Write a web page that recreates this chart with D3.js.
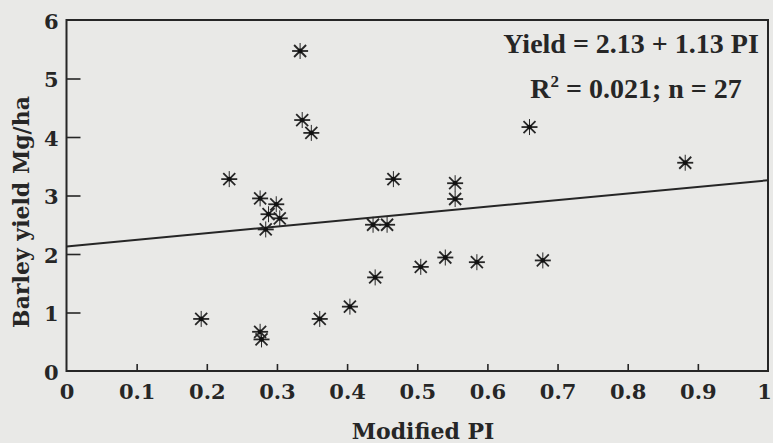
<!DOCTYPE html>
<html>
<head>
<meta charset="utf-8">
<script src="https://cdn.jsdelivr.net/npm/d3@7"></script>
<style>
  html, body { margin: 0; padding: 0; background: #e9e9e7; }
  svg { display: block; }
</style>
</head>
<body>
<div id="chart"></div>
<script>
// values
const modifiedPI = [
  0.333, 0.336, 0.349,
  0.232, 0.276, 0.299, 0.288, 0.304, 0.284,
  0.466, 0.437, 0.457, 0.440, 0.404, 0.361, 0.192, 0.276, 0.278,
  0.660, 0.882, 0.554, 0.554, 0.505, 0.540, 0.585, 0.679
]
const barleyYield = [
  5.47, 4.29, 4.07,
  3.28, 2.95, 2.85, 2.68, 2.61, 2.42,
  3.28, 2.50, 2.50, 1.60, 1.10, 0.89, 0.89, 0.67, 0.54,
  4.17, 3.56, 3.21, 2.94, 1.78, 1.94, 1.86, 1.89
]
const xTicks = [0, 0.1, 0.2, 0.3, 0.4, 0.5, 0.6, 0.7, 0.8, 0.9, 1]
const yTicks = [0, 1, 2, 3, 4, 5, 6]
const intercept = 2.13
const slope = 1.13
const equationLines = ['Yield = 2.13 + 1.13 PI', 'R', ' = 0.021; n = 27']

const width = 773
const height = 443
const margin = { top: 20, right: 5, bottom: 72, left: 66.5 }
const ink = '#262626'
const labelFont = '"DejaVu Serif", serif'
const eqFont = '"Liberation Serif", "Times New Roman", serif'

const svg = d3.select('#chart')
  .append('svg')
  .attr('width', width)
  .attr('height', height)

svg.append('rect')
  .attr('width', width)
  .attr('height', height)
  .attr('fill', '#e9e9e7')

const x = d3.scaleLinear()
  .domain([0, 1])
  .range([margin.left, width - margin.right])

const y = d3.scaleLinear()
  .domain([0, 6])
  .range([height - margin.bottom, margin.top])

// frame
svg.append('rect')
  .attr('x', x(0))
  .attr('y', y(6))
  .attr('width', x(1) - x(0))
  .attr('height', y(0) - y(6))
  .attr('fill', 'none')
  .attr('stroke', ink)
  .attr('stroke-width', 2)

// x axis, ticks pointing inward
const xAxis = d3.axisBottom(x)
  .tickValues(xTicks)
  .tickSizeInner(-7)
  .tickSizeOuter(0)
  .tickPadding(13)
  .tickFormat(d => d === 0 || d === 1 ? d3.format('d')(d) : d3.format('.1f')(d))

const gx = svg.append('g')
  .attr('transform', `translate(0,${y(0)})`)
  .call(xAxis)
gx.select('.domain').remove()
gx.selectAll('.tick line')
  .attr('stroke', ink)
  .attr('stroke-width', 1.6)
  .filter(d => d === 0 || d === 1).remove()
gx.selectAll('.tick text')
  .attr('fill', ink)
  .attr('font-family', labelFont)
  .attr('font-weight', 'bold')
  .attr('font-size', 21)
  .filter(d => d === 1)
  .attr('dx', -4)

// y axis, ticks pointing inward
const yAxis = d3.axisLeft(y)
  .tickValues(yTicks)
  .tickSizeInner(-14)
  .tickSizeOuter(0)
  .tickPadding(8)
  .tickFormat(d3.format('d'))

const gy = svg.append('g')
  .attr('transform', `translate(${x(0)},0)`)
  .call(yAxis)
gy.select('.domain').remove()
gy.selectAll('.tick line')
  .attr('stroke', ink)
  .attr('stroke-width', 1.6)
  .filter(d => d === 0 || d === 6).remove()
gy.selectAll('.tick text')
  .attr('fill', ink)
  .attr('font-family', labelFont)
  .attr('font-weight', 'bold')
  .attr('font-size', 21)
  .attr('dy', '0.4em')

// axis titles
svg.append('text')
  .attr('x', 423)
  .attr('y', 439)
  .attr('text-anchor', 'middle')
  .attr('fill', ink)
  .attr('font-family', labelFont)
  .attr('font-weight', 'bold')
  .attr('font-size', 22)
  .text('Modified PI')

svg.append('text')
  .attr('transform', 'translate(29,212) rotate(-90)')
  .attr('text-anchor', 'middle')
  .attr('fill', ink)
  .attr('font-family', labelFont)
  .attr('font-weight', 'bold')
  .attr('font-size', 22)
  .text('Barley yield Mg/ha')

// regression line
const fit = d3.line()
  .x(d => x(d))
  .y(d => y(intercept + slope * d))

svg.append('path')
  .datum([0, 1])
  .attr('d', fit)
  .attr('fill', 'none')
  .attr('stroke', ink)
  .attr('stroke-width', 2)

// asterisk markers
const r = 8
const arms = [
  [-r, 0, r, 0],
  [-r * 0.75, -r * 0.75, r * 0.75, r * 0.75],
  [-r * 0.75, r * 0.75, r * 0.75, -r * 0.75],
  [0, -r, 0, r]
]

const points = svg.append('g')
  .selectAll('g')
  .data(modifiedPI.map((d, i) => [d, barleyYield[i]]))
  .join('g')
  .attr('transform', d => `translate(${x(d[0])},${y(d[1])})`)

points.selectAll('line')
  .data(arms)
  .join('line')
  .attr('x1', d => d[0])
  .attr('y1', d => d[1])
  .attr('x2', d => d[2])
  .attr('y2', d => d[3])
  .attr('stroke', ink)
  .attr('stroke-width', (d, i) => i === 3 ? 1 : 1.8)

points.append('circle')
  .attr('r', 2.4)
  .attr('fill', '#111')

// equation
const eq = svg.append('g')
  .attr('fill', ink)
  .attr('font-family', eqFont)
  .attr('font-weight', 'bold')
  .attr('font-size', 28)

eq.append('text')
  .attr('x', 631)
  .attr('y', 53)
  .attr('text-anchor', 'middle')
  .text(equationLines[0])

const eq2 = eq.append('text')
  .attr('x', 636)
  .attr('y', 98)
  .attr('text-anchor', 'middle')
eq2.append('tspan').text(equationLines[1])
eq2.append('tspan')
  .attr('font-size', 17)
  .attr('dy', -11)
  .text('2')
eq2.append('tspan')
  .attr('dy', 11)
  .text(equationLines[2])
</script>
</body>
</html>
